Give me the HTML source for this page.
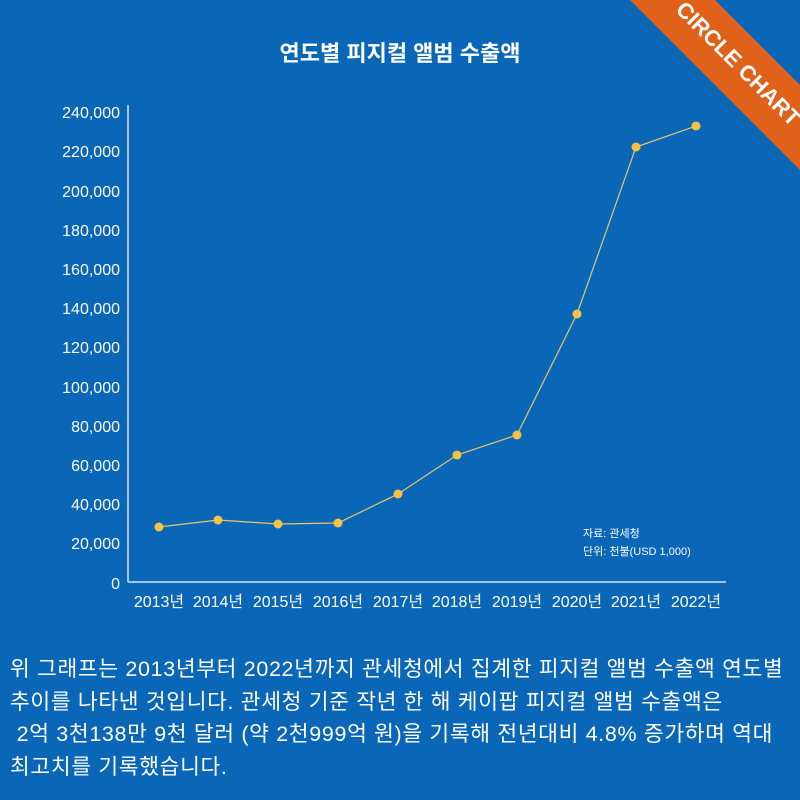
<!DOCTYPE html>
<html><head><meta charset="utf-8"><style>
body{margin:0;width:800px;height:800px;background:#0a66b7;overflow:hidden;font-family:"Liberation Sans","Noto Sans CJK KR",sans-serif;color:#fff;position:relative}
.p{position:absolute;left:10px;top:653px;font-size:21.5px;line-height:32.5px;white-space:pre;letter-spacing:0.65px}
</style></head><body>
<svg width="800" height="800" style="position:absolute;left:0;top:0">
<polygon points="630,0 715,0 800,85 800,170" fill="#e0621a"/>
<text x="0" y="0" transform="translate(733,69) rotate(45)" text-anchor="middle" font-size="22" font-weight="bold" fill="#fff" font-family="Liberation Sans,sans-serif">CIRCLE CHART</text>
<text x="400" y="61" text-anchor="middle" font-size="22" font-weight="bold" fill="#fff" font-family="Liberation Sans,Noto Sans CJK KR,sans-serif">연도별 피지컬 앨범 수출액</text>
<line x1="128" y1="105" x2="128" y2="582" stroke="#d8e6f4" stroke-width="1.5"/>
<line x1="128" y1="582" x2="726" y2="582" stroke="#9cc3e8" stroke-width="2"/>
<g font-size="16" fill="#fff" text-anchor="end" font-family="Liberation Sans,sans-serif">
<text x="120" y="118">240,000</text><text x="120" y="157">220,000</text><text x="120" y="197">200,000</text><text x="120" y="236">180,000</text><text x="120" y="275">160,000</text><text x="120" y="314">140,000</text><text x="120" y="353">120,000</text><text x="120" y="393">100,000</text><text x="120" y="432">80,000</text><text x="120" y="471">60,000</text><text x="120" y="510">40,000</text><text x="120" y="549">20,000</text><text x="120" y="589">0</text>
</g>
<g font-size="16" fill="#fff" text-anchor="middle" font-family="Liberation Sans,Noto Sans CJK KR,sans-serif">
<text x="159" y="607">2013년</text><text x="218" y="607">2014년</text><text x="278" y="607">2015년</text><text x="338" y="607">2016년</text><text x="398" y="607">2017년</text><text x="457" y="607">2018년</text><text x="517" y="607">2019년</text><text x="577" y="607">2020년</text><text x="636" y="607">2021년</text><text x="696" y="607">2022년</text>
</g>
<g font-size="11" fill="#fff" font-family="Liberation Sans,Noto Sans CJK KR,sans-serif">
<text x="583" y="537">자료: 관세청</text><text x="583" y="555">단위: 천불(USD 1,000)</text>
</g>
<polyline fill="none" stroke="#e8c66a" stroke-width="1.2" points="159,527 218,520 278,524 338,523 398,494 457,455 517,435 577,314 636,147 696,126"/>
<g fill="#f7c143">
<circle cx="159" cy="527" r="4.5"/><circle cx="218" cy="520" r="4.5"/><circle cx="278" cy="524" r="4.5"/><circle cx="338" cy="523" r="4.5"/><circle cx="398" cy="494" r="4.5"/><circle cx="457" cy="455" r="4.5"/><circle cx="517" cy="435" r="4.5"/><circle cx="577" cy="314" r="4.5"/><circle cx="636" cy="147" r="4.5"/><circle cx="696" cy="126" r="4.5"/>
</g>
</svg>
<div class="p">위 그래프는 2013년부터 2022년까지 관세청에서 집계한 피지컬 앨범 수출액 연도별
추이를 나타낸 것입니다. 관세청 기준 작년 한 해 케이팝 피지컬 앨범 수출액은
 2억 3천138만 9천 달러 (약 2천999억 원)을 기록해 전년대비 4.8% 증가하며 역대
최고치를 기록했습니다.</div>
</body></html>
